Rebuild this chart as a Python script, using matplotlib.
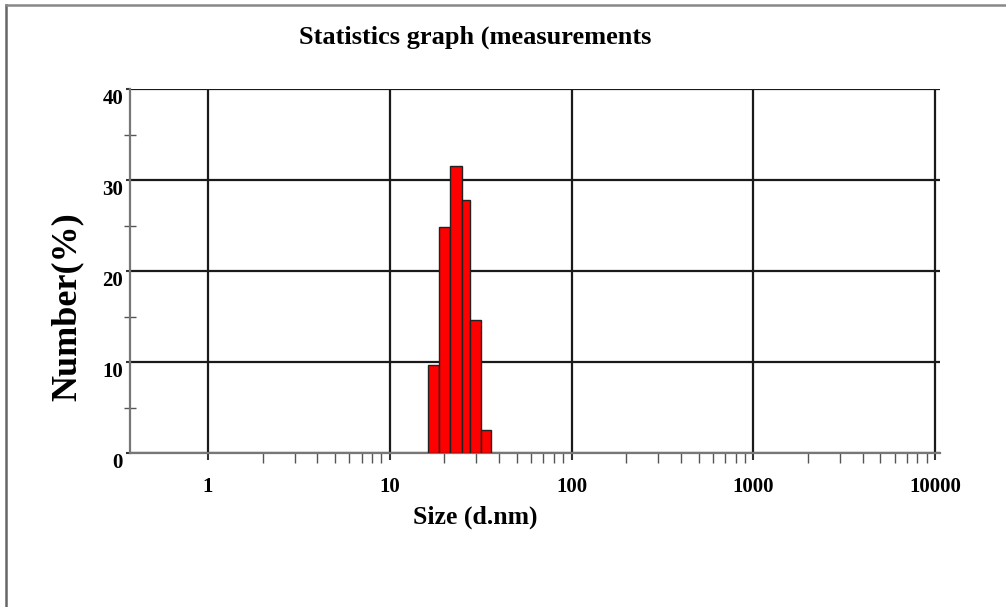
import numpy
import matplotlib
matplotlib.use('Agg')
import matplotlib.pyplot as plt
from matplotlib.lines import Line2D
from matplotlib.ticker import FixedLocator, NullFormatter

binEdges = [16.2, 18.7, 21.5, 25.0, 27.5, 31.8, 36.1]
numberPct = [9.7, 24.8, 31.5, 27.8, 14.6, 2.5]

xMajor = [1, 10, 100, 1000, 10000]
xMajorLabels = ['1', '10', '100', '1000', '10000']
yMajor = [0, 10, 20, 30, 40]
yMinor = [5, 15, 25, 35]

plt.rcParams['font.family'] = ['Liberation Serif', 'DejaVu Serif']
plt.rcParams['font.weight'] = 'bold'

fig = plt.figure(figsize=(10.06, 6.07), dpi=100)
W, H = 1006., 607.
ax = fig.add_axes([130/W, 1-453/H, (940-130)/W, (453-89)/H])

lefts = numpy.array(binEdges[:-1])
widths = numpy.diff(binEdges)
ax.bar(lefts, numberPct, width=widths, align='edge', color='#ff0000',
       edgecolor='#222222', linewidth=1.0, zorder=3)

ax.set_xscale('log')
# 10000 gridline sits a few px inside the right end of the axis line
ax.set_xlim(10**(-78/181.75), 10**((940-208)/181.75))
ax.set_ylim(0, 40)

ax.xaxis.set_major_locator(FixedLocator(xMajor))
ax.set_xticklabels(xMajorLabels)
minors = [m*d for d in [1, 10, 100, 1000] for m in range(2, 10)]
ax.xaxis.set_minor_locator(FixedLocator(minors))
ax.xaxis.set_minor_formatter(NullFormatter())

ax.set_yticks(yMajor)
ax.set_yticks(yMinor, minor=True)

ax.grid(True, which='major', axis='both', color='#1a1a1a', linewidth=1.6, zorder=1)

for s in ['top', 'right']:
    ax.spines[s].set_visible(False)
for s in ['left', 'bottom']:
    ax.spines[s].set_color('#777777')
    ax.spines[s].set_linewidth(1.6)

ax.tick_params(axis='x', which='major', direction='out', length=5, width=1.5,
               color='#333333', pad=12, labelsize=15)
ax.tick_params(axis='x', which='minor', direction='out', length=7, width=1,
               color='#555555')
ax.tick_params(axis='y', which='major', direction='out', length=3, width=1.5,
               color='#333333', pad=2, labelsize=15)
ax.tick_params(axis='y', which='minor', direction='inout', length=8, width=1,
               color='#555555')
for lab in ax.get_yticklabels():
    lab.set_verticalalignment('top')

fig.text(475/W, 1-37/H, 'Statistics graph (measurements', ha='center', va='center',
         fontsize=19, fontweight='bold')
fig.text(475/W, 1-517/H, 'Size (d.nm)', ha='center', va='center',
         fontsize=18.5, fontweight='bold')
fig.text(67/W, 1-307/H, 'Number(%)', ha='center', va='center', rotation=90,
         fontsize=26, fontweight='bold')

# frame lines along top and left edge of the image
fig.add_artist(Line2D([6/W, 6/W], [0, 1-5/H], transform=fig.transFigure,
                      color='#666666', linewidth=1.8))
fig.add_artist(Line2D([6/W, 1], [1-5/H, 1-5/H], transform=fig.transFigure,
                      color='#888888', linewidth=1.8))

fig.savefig('out.png', dpi=100)
